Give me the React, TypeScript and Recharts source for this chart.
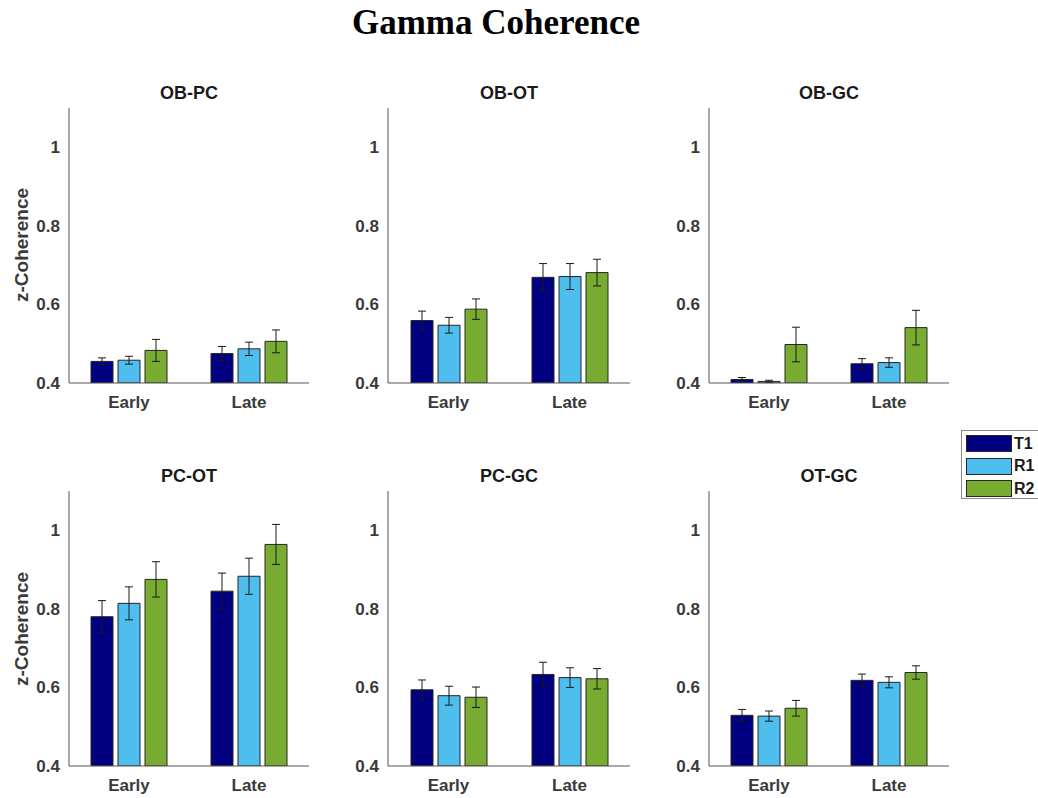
import React from 'react';
import { BarChart, Bar, XAxis, YAxis, ErrorBar } from 'recharts';

const categories = ['Early', 'Late'];
const seriesNames = ['T1', 'R1', 'R2'];
const seriesColors = ['#000080', '#4dbeee', '#77ac30'];
const yTicks = [0.4, 0.6, 0.8, 1];
const yDomain = [0.4, 1.1];

// values ordered [T1, R1, R2]
const obPcEarly = [0.455, 0.458, 0.483];
const obPcLate = [0.475, 0.487, 0.506];
const obPcEarlyErr = [0.009, 0.010, 0.028];
const obPcLateErr = [0.018, 0.017, 0.029];

const obOtEarly = [0.559, 0.547, 0.588];
const obOtLate = [0.669, 0.671, 0.681];
const obOtEarlyErr = [0.024, 0.020, 0.026];
const obOtLateErr = [0.035, 0.033, 0.034];

const obGcEarly = [0.409, 0.404, 0.498];
const obGcLate = [0.449, 0.452, 0.541];
const obGcEarlyErr = [0.005, 0.003, 0.044];
const obGcLateErr = [0.013, 0.012, 0.044];

const pcOtEarly = [0.780, 0.814, 0.875];
const pcOtLate = [0.845, 0.883, 0.964];
const pcOtEarlyErr = [0.041, 0.042, 0.045];
const pcOtLateErr = [0.046, 0.046, 0.051];

const pcGcEarly = [0.594, 0.579, 0.575];
const pcGcLate = [0.633, 0.625, 0.622];
const pcGcEarlyErr = [0.025, 0.024, 0.026];
const pcGcLateErr = [0.031, 0.025, 0.026];

const otGcEarly = [0.529, 0.527, 0.547];
const otGcLate = [0.618, 0.613, 0.638];
const otGcEarlyErr = [0.015, 0.013, 0.020];
const otGcLateErr = [0.016, 0.014, 0.017];

const panelTitles = ['OB-PC', 'OB-OT', 'OB-GC', 'PC-OT', 'PC-GC', 'OT-GC'];
const panelValues = [
  [obPcEarly, obPcLate, obPcEarlyErr, obPcLateErr],
  [obOtEarly, obOtLate, obOtEarlyErr, obOtLateErr],
  [obGcEarly, obGcLate, obGcEarlyErr, obGcLateErr],
  [pcOtEarly, pcOtLate, pcOtEarlyErr, pcOtLateErr],
  [pcGcEarly, pcGcLate, pcGcEarlyErr, pcGcLateErr],
  [otGcEarly, otGcLate, otGcEarlyErr, otGcLateErr],
];

// layout
const colX = [[69, 309], [388, 630], [709, 949]];
const rowY = [[108, 383], [491, 766]];

const FONT = '"Liberation Sans", Arial, Helvetica, sans-serif';
const TEXT = '#3a3a3a';
const AXIS = '#555555';

function buildData(p: number) {
  const [early, late, earlyErr, lateErr] = panelValues[p];
  return categories.map((cat, ci) => {
    const row: any = { cat };
    const vals = ci === 0 ? early : late;
    const errs = ci === 0 ? earlyErr : lateErr;
    seriesNames.forEach((s, si) => {
      row[s] = vals[si];
      row[s + 'e'] = errs[si];
    });
    return row;
  });
}

function Panel({ p }: { p: number }) {
  const col = p % 3;
  const row = Math.floor(p / 3);
  const [x0, x1] = colX[col];
  const [y0, y1] = rowY[row];
  const plotW = x1 - x0;
  const plotH = y1 - y0;
  const yAxisW = 60;
  const top = 10;
  const right = 10;
  const xAxisH = 35;
  const data = buildData(p);
  return (
    <>
      <div
        style={{
          position: 'absolute',
          left: x0,
          width: plotW,
          top: y0 - 15,
          transform: 'translateY(-50%)',
          textAlign: 'center',
          fontFamily: FONT,
          fontWeight: 'bold',
          fontSize: 18,
          color: '#1a1a1a',
          lineHeight: 1,
        }}
      >
        {panelTitles[p]}
      </div>
      {col === 0 && (
        <div
          style={{
            position: 'absolute',
            left: 21,
            top: row === 0 ? 245 : 629,
            transform: 'translate(-50%, -50%) rotate(-90deg)',
            whiteSpace: 'nowrap',
            fontFamily: FONT,
            fontWeight: 'bold',
            fontSize: 19,
            color: TEXT,
            lineHeight: 1,
          }}
        >
          z-Coherence
        </div>
      )}
      <div style={{ position: 'absolute', left: x0 - yAxisW, top: y0 - top }}>
        <BarChart
          width={yAxisW + plotW + right}
          height={top + plotH + xAxisH}
          data={data}
          margin={{ top, right, bottom: 0, left: 0 }}
          barSize={22}
          barGap={5}
        >
          <XAxis
            dataKey="cat"
            height={xAxisH}
            axisLine={{ stroke: AXIS, strokeWidth: 1 }}
            tickLine={false}
            tickSize={0}
            tickMargin={13}
            tick={{ fill: TEXT, fontSize: 17, fontWeight: 'bold', fontFamily: FONT }}
          />
          <YAxis
            type="number"
            domain={yDomain}
            ticks={yTicks}
            allowDataOverflow
            width={yAxisW}
            axisLine={{ stroke: AXIS, strokeWidth: 1 }}
            tickLine={false}
            tickSize={0}
            tickMargin={9}
            tickFormatter={(v: number) => (v === 1 ? '1' : v.toFixed(1))}
            tick={{ fill: TEXT, fontSize: 17, fontWeight: 'bold', fontFamily: FONT }}
          />
          {seriesNames.map((s, si) => (
            <Bar
              key={s}
              dataKey={s}
              fill={seriesColors[si]}
              stroke="#262626"
              strokeWidth={1}
              isAnimationActive={false}
            >
              <ErrorBar dataKey={s + 'e'} width={4} stroke="#1a1a1a" strokeWidth={1} direction="y" />
            </Bar>
          ))}
        </BarChart>
      </div>
    </>
  );
}

function Legend() {
  return (
    <div
      style={{
        position: 'absolute',
        left: 961,
        top: 430,
        width: 90,
        height: 69,
        boxSizing: 'border-box',
        border: '1px solid #8a8a8a',
        background: '#fff',
      }}
    >
      {seriesNames.map((s, si) => (
        <div
          key={s}
          style={{
            position: 'absolute',
            left: 4,
            top: 4 + si * 22.5,
            display: 'flex',
            alignItems: 'center',
          }}
        >
          <div
            style={{
              width: 46,
              height: 17,
              boxSizing: 'border-box',
              background: seriesColors[si],
              border: '1px solid #262626',
            }}
          />
          <span
            style={{
              marginLeft: 2,
              fontFamily: FONT,
              fontWeight: 'bold',
              fontSize: 16,
              color: '#1a1a1a',
              lineHeight: 1,
            }}
          >
            {s}
          </span>
        </div>
      ))}
    </div>
  );
}

export default function App() {
  return (
    <div
      style={{
        position: 'absolute',
        left: 0,
        top: 0,
        width: 1038,
        height: 798,
        background: '#fff',
        overflow: 'hidden',
      }}
    >
      <div
        style={{
          position: 'absolute',
          left: 0,
          width: 992,
          top: 4,
          textAlign: 'center',
          fontFamily: '"Liberation Serif", "Times New Roman", serif',
          fontWeight: 'bold',
          fontSize: 35,
          lineHeight: 1.1,
          color: '#000',
        }}
      >
        Gamma Coherence
      </div>
      {panelTitles.map((_, p) => (
        <Panel key={p} p={p} />
      ))}
      <Legend />
    </div>
  );
}
